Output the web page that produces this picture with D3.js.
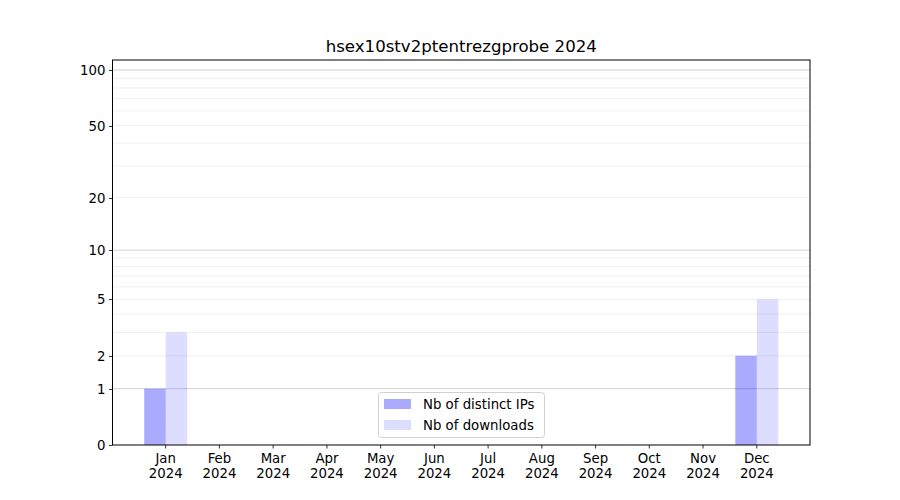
<!DOCTYPE html>
<html><head><meta charset="utf-8">
<script src="https://cdn.jsdelivr.net/npm/d3@7"></script>
<style>body{margin:0;background:#fff;} text{font-family:"DejaVu Sans",sans-serif;}</style>
</head><body>
<svg id="c" width="900" height="500"></svg>
<script>
const title = "hsex10stv2ptentrezgprobe 2024";
const months = ["Jan","Feb","Mar","Apr","May","Jun","Jul","Aug","Sep","Oct","Nov","Dec"];
const year = "2024";
const distinctIPs = [1,0,0,0,0,0,0,0,0,0,0,2];
const downloads = [3,0,0,0,0,0,0,0,0,0,0,5];
const yTicks = [0,1,2,5,10,20,50,100];
const majorGrid = [1,10,100];
const minorGrid = [2,3,4,5,6,7,8,9,20,30,40,50,60,70,80,90];
const seriesNames = ["Nb of distinct IPs","Nb of downloads"];

const svg = d3.select("#c");
const L=112.5, R=810, T=60, B=445;
const x = d3.scaleLinear().domain([-0.99, 11.99]).range([L, R]);
const yT = d3.scaleLinear().domain([0, 2.0577]).range([B, T]);
const y = v => yT(Math.log10(1+v));

// grid
const g = svg.append("g");
g.selectAll(".mn").data(minorGrid).enter().append("line")
  .attr("x1",L).attr("x2",R).attr("y1",d=>y(d)).attr("y2",d=>y(d))
  .attr("stroke","#ebebeb").attr("stroke-width",0.8);
g.selectAll(".mj").data(majorGrid).enter().append("line")
  .attr("x1",L).attr("x2",R).attr("y1",d=>y(d)).attr("y2",d=>y(d))
  .attr("stroke","#c8c8c8").attr("stroke-width",0.8);

// bars
const w = 0.4;
svg.append("g").selectAll("rect").data(distinctIPs).enter().append("rect")
  .attr("x",(d,i)=>x(i-w)).attr("width",(d,i)=>x(i)-x(i-w))
  .attr("y",d=>y(d)).attr("height",d=>B-y(d))
  .attr("fill","#0000ff").attr("fill-opacity",0.333);
svg.append("g").selectAll("rect").data(downloads).enter().append("rect")
  .attr("x",(d,i)=>x(i)).attr("width",(d,i)=>x(i+w)-x(i))
  .attr("y",d=>y(d)).attr("height",d=>B-y(d))
  .attr("fill","#0000ff").attr("fill-opacity",0.135);

// frame
svg.append("rect").attr("x",L).attr("y",T).attr("width",R-L).attr("height",B-T)
  .attr("fill","none").attr("stroke","#000").attr("stroke-width",1);

// y axis
const ya = svg.append("g");
yTicks.forEach(t=>{
  const yy = Math.round(y(t))+0.5;
  ya.append("line").attr("x1",L-3.5).attr("x2",L).attr("y1",yy).attr("y2",yy).attr("stroke","#000").attr("stroke-width",0.8);
  ya.append("text").attr("x",L-7).attr("y",yy).attr("dy","0.35em").attr("text-anchor","end")
    .attr("font-size","13.3px").text(t);
});
// x axis
const xa = svg.append("g");
months.forEach((m,i)=>{
  const xx = x(i);
  xa.append("line").attr("x1",xx).attr("x2",xx).attr("y1",B).attr("y2",B+3.5).attr("stroke","#000").attr("stroke-width",0.8);
  const t = xa.append("text").attr("x",xx).attr("y",B+18).attr("text-anchor","middle").attr("font-size","13.3px");
  t.append("tspan").attr("x",xx).text(m);
  t.append("tspan").attr("x",xx).attr("dy","1.15em").text(year);
});

// title
svg.append("text").attr("x",(L+R)/2).attr("y",51.5).attr("text-anchor","middle")
  .attr("font-size","16.6px").text(title);

// legend
const lg = svg.append("g");
lg.append("rect").attr("x",378.5).attr("y",392.5).attr("width",166).attr("height",45).attr("rx",3)
  .attr("fill","#fff").attr("fill-opacity",0.8).attr("stroke","#d0d0d0");
const cols = [0.333,0.135];
seriesNames.forEach((s,i)=>{
  lg.append("rect").attr("x",384).attr("y",399+i*21).attr("width",27).attr("height",10)
    .attr("fill","#0000ff").attr("fill-opacity",cols[i]);
  lg.append("text").attr("x",423).attr("y",404+i*21).attr("dy","0.35em").attr("font-size","13.3px").text(s);
});
</script>
</body></html>
